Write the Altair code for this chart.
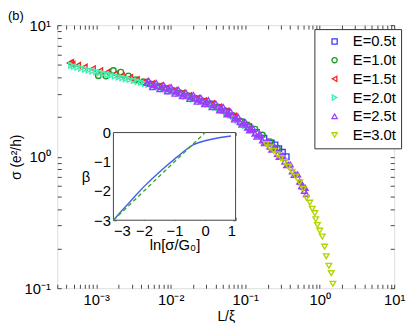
import altair as alt
import pandas as pd

FONT = "Liberation Sans, Arial, Helvetica, sans-serif"

series_names = ["E=0.5t", "E=1.0t", "E=1.5t", "E=2.0t", "E=2.5t", "E=3.0t"]
series_colors = ["#3c3cff", "#1f9a1f", "#ff2020", "#3ef0b0", "#9d3cff", "#b4d400"]
series_shapes = ["square", "circle", "triangle-left", "triangle-right", "triangle-up", "triangle-down"]

# E=0.5t
x_e05 = [0.0282, 0.0355, 0.0447, 0.0562, 0.0708, 0.0891, 0.112, 0.141, 0.178, 0.224, 0.251, 0.282, 0.316, 0.355]
y_e05 = [2.63, 2.50, 2.36, 2.20, 2.02, 1.84, 1.69, 1.53, 1.38, 1.27, 1.23, 1.15, 1.08, 1.00]
# E=1.0t
x_e10 = [0.00107, 0.00135, 0.0017, 0.00214, 0.0027, 0.0034, 0.0043, 0.0054, 0.0068, 0.0085, 0.0107, 0.0135,
         0.017, 0.0214, 0.027, 0.034, 0.043, 0.054, 0.068, 0.085, 0.107, 0.135, 0.17, 0.214, 0.27]
y_e10 = [4.13, 4.10, 4.52, 4.39, 4.11, 3.85, 3.71, 3.57, 3.44, 3.32, 3.19, 3.05,
         2.91, 2.78, 2.65, 2.53, 2.39, 2.24, 2.06, 1.87, 1.74, 1.62, 1.46, 1.30, 1.16]
# E=1.5t
x_e15 = [0.00044, 0.00046, 0.00048, 0.00057, 0.0007, 0.0009, 0.00113, 0.0014, 0.0018, 0.0022, 0.00285, 0.0035,
         0.0045, 0.0056, 0.0071, 0.0088, 0.0113, 0.0142, 0.0177, 0.0225, 0.028, 0.0357, 0.0445, 0.056, 0.071]
y_e15 = [5.15, 5.20, 5.05, 4.95, 4.80, 4.66, 4.51, 4.38, 4.25, 4.12, 4.00, 3.86,
         3.72, 3.59, 3.46, 3.33, 3.20, 3.05, 2.92, 2.78, 2.66, 2.53, 2.39, 2.23, 2.04]
# E=2.0t
x_e20 = [0.00046, 0.0005, 0.00056, 0.00063, 0.00071, 0.00079, 0.00089, 0.001, 0.00112, 0.00126, 0.00141, 0.00158,
         0.00178, 0.002, 0.00224, 0.0025, 0.0028, 0.0032, 0.0036, 0.004, 0.0045, 0.005,
         0.0056, 0.0063, 0.0071, 0.0079, 0.0089, 0.01, 0.0112, 0.0126, 0.0141, 0.0158, 0.0178, 0.02,
         0.0224, 0.025, 0.028, 0.0316, 0.0355, 0.04, 0.0447, 0.05, 0.056, 0.063, 0.071, 0.079, 0.089, 0.1]
y_e20 = [4.95, 4.86, 4.78, 4.70, 4.62, 4.55, 4.48, 4.42, 4.35, 4.29, 4.22, 4.16,
         4.10, 4.04, 3.98, 3.92, 3.86, 3.80, 3.73, 3.66, 3.60, 3.53,
         3.47, 3.40, 3.34, 3.28, 3.22, 3.16, 3.09, 3.02, 2.95, 2.88, 2.82, 2.75,
         2.69, 2.63, 2.57, 2.51, 2.44, 2.37, 2.31, 2.24, 2.16, 2.07, 1.98, 1.88, 1.80, 1.72]
# E=2.5t
x_e25 = [0.0048, 0.00537, 0.006, 0.00676, 0.0076, 0.00851, 0.0095, 0.0107, 0.012, 0.0135, 0.0151, 0.017,
         0.019, 0.0214, 0.024, 0.0269, 0.030, 0.0339, 0.038, 0.0427, 0.0479, 0.0537, 0.060, 0.0676,
         0.0759, 0.085, 0.0955, 0.107, 0.120, 0.135, 0.151, 0.17, 0.191, 0.214, 0.240, 0.27,
         0.302, 0.339, 0.380, 0.427, 0.479, 0.537, 0.56, 0.603, 0.62, 0.64, 0.66,
         0.00507, 0.00638, 0.00804, 0.0101, 0.0127, 0.016, 0.0202, 0.0254, 0.032, 0.0403, 0.0507,
         0.0638, 0.0804, 0.101, 0.127, 0.16, 0.202, 0.254, 0.32, 0.403, 0.507,
         0.00569, 0.00716, 0.00902, 0.0114, 0.0143, 0.018, 0.0226, 0.0285, 0.0359, 0.0452, 0.0569,
         0.0716, 0.0902, 0.114, 0.143, 0.18, 0.226, 0.285, 0.359, 0.452, 0.569]
y_e25 = [3.64, 3.57, 3.51, 3.44, 3.38, 3.32, 3.26, 3.19, 3.12, 3.05, 2.98, 2.91,
         2.84, 2.78, 2.72, 2.65, 2.59, 2.53, 2.45, 2.39, 2.32, 2.24, 2.15, 2.06,
         1.96, 1.83, 1.79, 1.66, 1.62, 1.50, 1.45, 1.33, 1.29, 1.19, 1.15, 1.05,
         1.01, 0.918, 0.869, 0.774, 0.731, 0.646, 0.64, 0.589, 0.55, 0.58, 0.52,
         3.78, 3.64, 3.51, 3.38, 3.23, 3.08, 2.94, 2.81, 2.69, 2.54, 2.39,
         2.20, 2.01, 1.83, 1.65, 1.47, 1.31, 1.17, 1.02, 0.873, 0.733,
         3.38, 3.26, 3.14, 3.01, 2.88, 2.75, 2.62, 2.51, 2.38, 2.25, 2.10,
         1.92, 1.75, 1.585, 1.42, 1.27, 1.13, 0.998, 0.863, 0.726, 0.596]
# E=3.0t
x_e30 = [0.191, 0.214, 0.240, 0.269, 0.302, 0.339, 0.380, 0.427, 0.479, 0.537, 0.603, 0.665,
         0.738, 0.794, 0.859, 0.885, 0.933, 1.0, 1.084, 1.164, 1.225, 1.33, 1.429, 1.503]
y_e30 = [1.245, 1.175, 1.109, 1.042, 0.975, 0.908, 0.839, 0.766, 0.706, 0.638, 0.569, 0.486,
         0.447, 0.402, 0.372, 0.334, 0.302, 0.274, 0.247, 0.207, 0.175, 0.148, 0.130, 0.108]

# inset: beta vs ln[sigma/G0]
beta_lnx = [-3.0, -2.75, -2.5, -2.25, -2.0, -1.75, -1.5, -1.25, -1.0, -0.75, -0.5, -0.35, -0.2, 0.0, 0.25, 0.5, 0.85]
beta_val = [-3.0, -2.7, -2.42, -2.13, -1.85, -1.6, -1.36, -1.13, -0.91, -0.69, -0.49, -0.40, -0.34, -0.28, -0.22, -0.17, -0.12]
lin_lnx = [-3.0, 0.0]
lin_val = [-3.0, 0.0]

# axis ticks
x_major = [0.001, 0.01, 0.1, 1.0, 10.0]
x_major_labels = ["10⁻³", "10⁻²", "10⁻¹", "10⁰", "10¹"]
x_minor = [0.0003, 0.0004, 0.0005, 0.0006, 0.0007, 0.0008, 0.0009,
           0.002, 0.003, 0.004, 0.005, 0.006, 0.007, 0.008, 0.009,
           0.02, 0.03, 0.04, 0.05, 0.06, 0.07, 0.08, 0.09,
           0.2, 0.3, 0.4, 0.5, 0.6, 0.7, 0.8, 0.9,
           2.0, 3.0, 4.0, 5.0, 6.0, 7.0, 8.0, 9.0]
y_major = [0.1, 1.0, 10.0]
y_major_labels = ["10⁻¹", "10⁰", "10¹"]
y_minor = [0.2, 0.3, 0.4, 0.5, 0.6, 0.7, 0.8, 0.9, 2.0, 3.0, 4.0, 5.0, 6.0, 7.0, 8.0, 9.0]
inset_x_ticks = [-3, -2, -1, 0, 1]
inset_y_ticks = [-3, -2, -1, 0]

W, H = 342, 267
TICK = 4
INSET_X_RANGE = [57, 181]
INSET_Y_RANGE = [198, 109]


def label_expr(values, labels):
    expr = "''"
    for v, l in reversed(list(zip(values, labels))):
        expr = f"datum.value == {v} ? '{l}' : ({expr})"
    return expr


rows = []
for name, xs, ys in zip(series_names,
                        [x_e05, x_e10, x_e15, x_e20, x_e25, x_e30],
                        [y_e05, y_e10, y_e15, y_e20, y_e25, y_e30]):
    for a, b in zip(xs, ys):
        rows.append({"series": name, "L": a, "sigma": b})
pts = pd.DataFrame(rows)

xscale = alt.Scale(type="log", domain=[0.0003, 10], nice=False)
yscale = alt.Scale(type="log", domain=[0.1, 10], nice=False)

axis_style = dict(grid=False, domain=False, tickColor="#444", tickWidth=1,
                  labelFont=FONT, labelColor="#000", titleFont=FONT,
                  titleColor="#000", titleFontWeight="normal")

legend = alt.Legend(title=None, orient="none", legendX=261, legendY=4,
                    strokeColor="#333", fillColor="white", padding=5,
                    symbolOffset=8, labelOffset=11, rowPadding=3,
                    labelFont=FONT, labelFontSize=15, labelColor="#000",
                    symbolSize=28, symbolStrokeWidth=1.3)

points = alt.Chart(pts).mark_point(filled=False, size=32, strokeWidth=1.4, opacity=1).encode(
    x=alt.X("L:Q", scale=xscale,
            axis=alt.Axis(orient="bottom", values=x_minor + x_major,
                          labelExpr=label_expr(x_major, x_major_labels),
                          tickSize=TICK, offset=-TICK, labelPadding=5, labelFontSize=15,
                          labelOverlap=False, labelFlush=False,
                          title="L/ξ", titleFontSize=14, titlePadding=2, **axis_style)),
    y=alt.Y("sigma:Q", scale=yscale,
            axis=alt.Axis(orient="left", values=y_minor + y_major,
                          labelExpr=label_expr(y_major, y_major_labels),
                          tickSize=TICK, offset=-TICK, labelPadding=7, labelFontSize=15,
                          labelOverlap=False, labelFlush=False,
                          title="σ (e²/h)", titleFontSize=14, titlePadding=1, **axis_style)),
    color=alt.Color("series:N", scale=alt.Scale(domain=series_names, range=series_colors), legend=legend),
    shape=alt.Shape("series:N", scale=alt.Scale(domain=series_names, range=series_shapes), legend=legend),
    order=alt.Order("idx:Q"),
).transform_window(idx="row_number()")

frame_ticks = alt.Chart(pts).mark_point(opacity=0).encode(
    x=alt.X("L:Q", scale=xscale,
            axis=alt.Axis(orient="top", values=x_minor + x_major, labels=False, title=None,
                          tickSize=TICK, offset=-TICK, **axis_style)),
    y=alt.Y("sigma:Q", scale=yscale,
            axis=alt.Axis(orient="right", values=y_minor + y_major, labels=False, title=None,
                          tickSize=TICK, offset=-TICK, **axis_style)),
)

ix_scale = alt.Scale(domain=[-3, 1], range=INSET_X_RANGE, nice=False, zero=False)
iy_scale = alt.Scale(domain=[-3, 0], range=INSET_Y_RANGE, nice=False, zero=False)

box_df = pd.DataFrame({"x0": [inset_x_ticks[0]], "x1": [inset_x_ticks[-1]],
                       "y0": [inset_y_ticks[0]], "y1": [inset_y_ticks[-1]]})
inset_box = alt.Chart(box_df).mark_rect(fill="white", stroke="#444", strokeWidth=1).encode(
    x=alt.X("x0:Q", scale=ix_scale,
            axis=alt.Axis(orient="bottom", values=inset_x_ticks, tickSize=3,
                          offset=-(H - INSET_Y_RANGE[0]) - 3, labelPadding=3, labelFontSize=15,
                          title="ln[σ/G₀]", titleFontSize=15, titlePadding=0, **axis_style)),
    x2="x1:Q",
    y=alt.Y("y0:Q", scale=iy_scale,
            axis=alt.Axis(orient="left", values=inset_y_ticks, tickSize=3,
                          offset=-(INSET_X_RANGE[0] + 3), labelPadding=3, labelFontSize=15,
                          title="β", titleAngle=0, titleAlign="right", titleBaseline="middle",
                          titleFontSize=15, titlePadding=4, **axis_style)),
    y2="y1:Q",
)

beta_df = pd.DataFrame({"lnx": beta_lnx, "beta": beta_val})
lin_df = pd.DataFrame({"lnx": lin_lnx, "beta": lin_val})

inset_beta = alt.Chart(beta_df).mark_line(color="#3f5ff0", strokeWidth=1.4).encode(
    x=alt.X("lnx:Q", scale=ix_scale,
            axis=alt.Axis(orient="top", values=inset_x_ticks, labels=False, title=None, tickSize=3,
                          offset=-(INSET_Y_RANGE[1] + 3), **axis_style)),
    y=alt.Y("beta:Q", scale=iy_scale,
            axis=alt.Axis(orient="right", values=inset_y_ticks, labels=False, title=None, tickSize=3,
                          offset=-(W - INSET_X_RANGE[1] + 3), **axis_style)),
)

inset_lin = alt.Chart(lin_df).mark_line(color="#3aaa22", strokeWidth=1.4, strokeDash=[4, 3]).encode(
    x=alt.X("lnx:Q", scale=ix_scale, axis=None),
    y=alt.Y("beta:Q", scale=iy_scale, axis=None),
)

chart = alt.layer(points, frame_ticks, inset_box, inset_beta, inset_lin).resolve_scale(
    x="independent", y="independent"
).resolve_axis(
    x="independent", y="independent"
).properties(
    width=W, height=H,
    title=alt.TitleParams("(b)", anchor="start", frame="group", dx=-50, dy=6, offset=1,
                          fontSize=13, font=FONT, fontWeight="normal", color="#000"),
    autosize=alt.AutoSizeParams(type="none"),
    padding={"left": 50, "top": 15, "right": 13, "bottom": 40},
).configure_view(stroke="#444", strokeWidth=1).configure(background="white")

chart.save("out.html", embed_options={"renderer": "svg", "actions": False})
